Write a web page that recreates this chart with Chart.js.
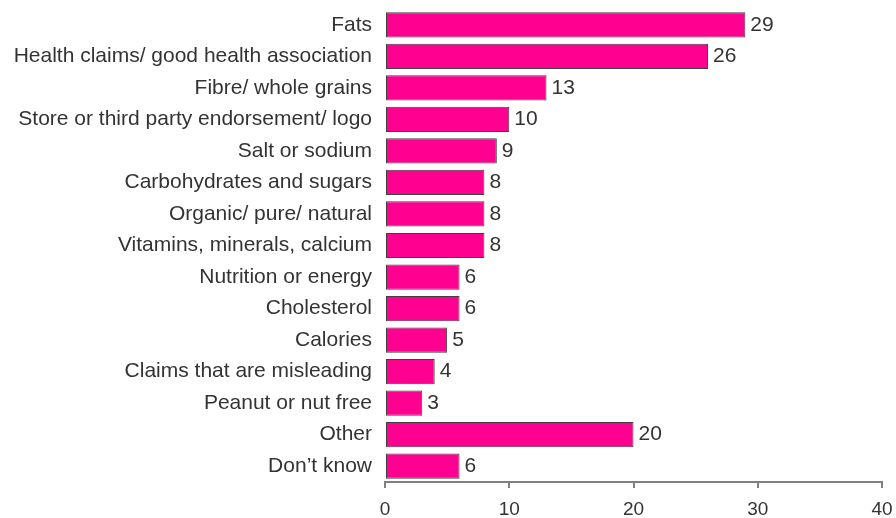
<!DOCTYPE html>
<html>
<head>
<meta charset="utf-8">
<script src="https://cdn.jsdelivr.net/npm/chart.js@4"></script>
<style>
  html, body { margin: 0; padding: 0; background: #fff; }
  #wrap { width: 896px; height: 518px; }
</style>
</head>
<body>
<div id="wrap"><canvas id="chart" width="896" height="518"></canvas></div>
<script>
  const categories = [
    "Fats",
    "Health claims/ good health association",
    "Fibre/ whole grains",
    "Store or third party endorsement/ logo",
    "Salt or sodium",
    "Carbohydrates and sugars",
    "Organic/ pure/ natural",
    "Vitamins, minerals, calcium",
    "Nutrition or energy",
    "Cholesterol",
    "Calories",
    "Claims that are misleading",
    "Peanut or nut free",
    "Other",
    "Don\u2019t know"
  ];
  const values = [29, 26, 13, 10, 9, 8, 8, 8, 6, 6, 5, 4, 3, 20, 6];
  const xTicks = [0, 10, 20, 30, 40];

  const FONT = "'Liberation Sans', Arial, sans-serif";

  // value labels to the right of each bar
  const valueLabels = {
    id: "valueLabels",
    afterDatasetsDraw(chart) {
      const ctx = chart.ctx;
      const meta = chart.getDatasetMeta(0);
      ctx.save();
      ctx.font = "21px " + FONT;
      ctx.fillStyle = "#333";
      ctx.textAlign = "left";
      ctx.textBaseline = "middle";
      meta.data.forEach((bar, i) => {
        ctx.fillText(String(values[i]), bar.x + 5, bar.y);
      });
      ctx.restore();
    }
  };

  new Chart(document.getElementById("chart"), {
    type: "bar",
    data: {
      labels: categories,
      datasets: [{
        data: values,
        backgroundColor: "#FF0090",
        borderColor: "#404040",
        borderWidth: 1,
        borderSkipped: false,
        barPercentage: 0.8,
        categoryPercentage: 1
      }]
    },
    options: {
      indexAxis: "y",
      responsive: false,
      animation: false,
      layout: { padding: { top: 9, right: 14, bottom: 0, left: 0 } },
      plugins: { legend: { display: false }, tooltip: { enabled: false } },
      scales: {
        x: {
          min: 0,
          max: 40,
          afterBuildTicks(scale) {
            scale.ticks = xTicks.map((v) => ({ value: v }));
          },
          afterFit(scale) {
            scale.height = 36;
            scale.paddingLeft = 0;
            scale.paddingRight = 0;
          },
          grid: { drawOnChartArea: false, drawTicks: true, tickLength: 6, color: "#808080", lineWidth: 2 },
          border: { display: true, color: "#808080", width: 2 },
          ticks: { font: { family: FONT, size: 19 }, color: "#333", padding: 10, maxRotation: 0 }
        },
        y: {
          afterFit(scale) {
            scale.width = 385;
            scale.paddingTop = 0;
            scale.paddingBottom = 0;
          },
          grid: { display: false, drawTicks: false },
          border: { display: false },
          ticks: { font: { family: FONT, size: 21 }, color: "#333", padding: 13, autoSkip: false }
        }
      }
    },
    plugins: [valueLabels]
  });
</script>
</body>
</html>
